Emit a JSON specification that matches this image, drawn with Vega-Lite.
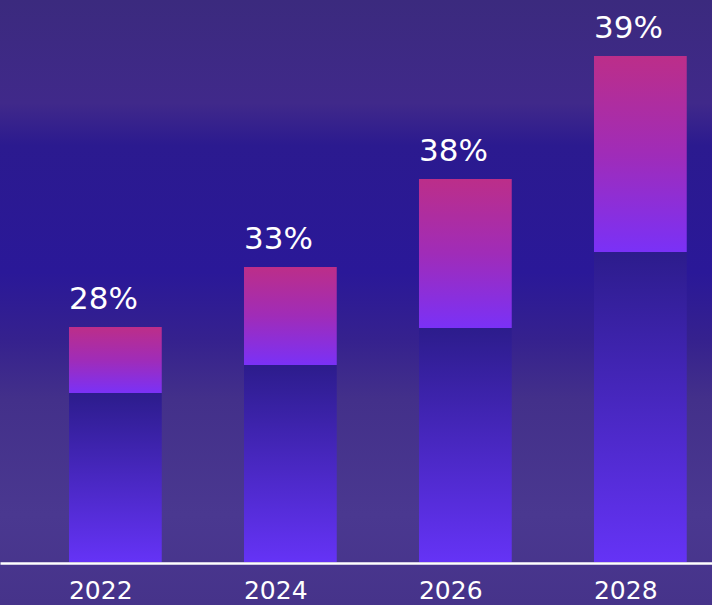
{
  "$schema": "https://vega.github.io/schema/vega-lite/v6.json",
  "width": 712,
  "height": 605,
  "padding": 0,
  "autosize": {"type": "none"},
  "background": "#3d2a82",
  "config": {
    "view": {
      "stroke": null,
      "fill": {
        "gradient": "linear",
        "x1": 0, "y1": 0, "x2": 0, "y2": 1,
        "stops": [
          {"offset": 0, "color": "#3b2a7e"},
          {"offset": 0.17, "color": "#40298a"},
          {"offset": 0.24, "color": "#2b1a8f"},
          {"offset": 0.45, "color": "#2a1898"},
          {"offset": 0.56, "color": "#35218e"},
          {"offset": 0.66, "color": "#43308a"},
          {"offset": 0.85, "color": "#4a3890"},
          {"offset": 1, "color": "#46338a"}
        ]
      }
    }
  },
  "data": {
    "values": [
      {"year": "2022", "base": 16.9, "total": 23.5, "share": "28%"},
      {"year": "2024", "base": 19.7, "total": 29.5, "share": "33%"},
      {"year": "2026", "base": 23.4, "total": 38.3, "share": "38%"},
      {"year": "2028", "base": 31.0, "total": 50.6, "share": "39%"}
    ]
  },
  "encoding": {
    "x": {
      "field": "year",
      "type": "nominal",
      "scale": {"paddingInner": 0.47, "paddingOuter": 0.2693, "align": 0.732},
      "axis": {
        "title": null,
        "orient": "bottom",
        "offset": -42,
        "domainColor": "#ffffff",
        "domainWidth": 2.5,
        "ticks": false,
        "tickSize": 0,
        "labelAngle": 0,
        "labelAlign": "left",
        "labelOffset": -46.4,
        "labelBaseline": "alphabetic",
        "labelPadding": 35,
        "labelColor": "#ffffff",
        "labelFont": "DejaVu Sans",
        "labelFontSize": 25,
        "grid": false
      }
    }
  },
  "layer": [
    {
      "mark": {
        "type": "bar",
        "color": {
          "gradient": "linear",
          "x1": 0, "y1": 0, "x2": 0, "y2": 1,
          "stops": [
            {"offset": 0, "color": "#2c1c8c"},
            {"offset": 1, "color": "#6533f6"}
          ]
        }
      },
      "encoding": {
        "y": {
          "field": "base",
          "type": "quantitative",
          "scale": {"domain": [-4.3, 56.2], "nice": false, "zero": false},
          "axis": null
        }
      }
    },
    {
      "mark": {
        "type": "bar",
        "color": {
          "gradient": "linear",
          "x1": 0, "y1": 0, "x2": 0, "y2": 1,
          "stops": [
            {"offset": 0, "color": "#bc2e89"},
            {"offset": 0.5, "color": "#a02cb8"},
            {"offset": 1, "color": "#7a31f7"}
          ]
        }
      },
      "encoding": {
        "y": {"field": "base", "type": "quantitative"},
        "y2": {"field": "total"}
      }
    },
    {
      "mark": {
        "type": "text",
        "align": "left",
        "baseline": "alphabetic",
        "dy": -18,
        "font": "DejaVu Sans",
        "fontSize": 31,
        "color": "#ffffff"
      },
      "encoding": {
        "x": {"field": "year", "type": "nominal", "bandPosition": 0},
        "y": {"field": "total", "type": "quantitative"},
        "text": {"field": "share"}
      }
    }
  ]
}
